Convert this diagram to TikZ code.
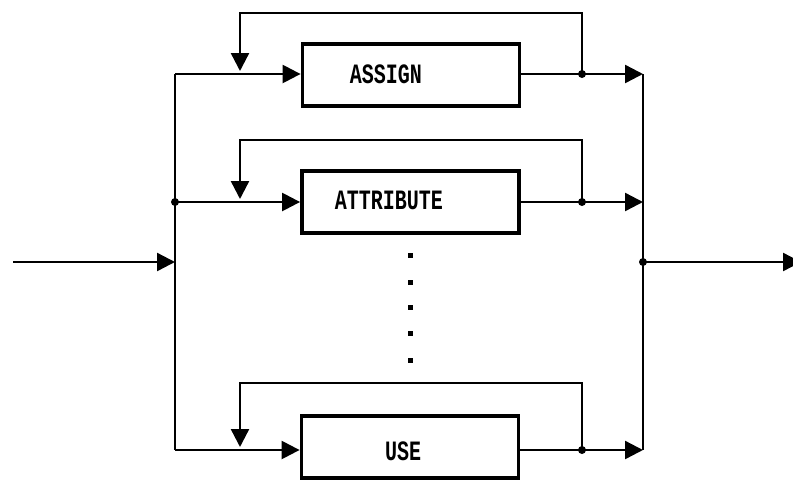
\documentclass[tikz,border=0pt]{standalone}
\usepackage{fontspec}
\usepackage{graphicx}
\newfontfamily\monofont{Liberation Mono}
\usetikzlibrary{arrows.meta}
\begin{document}
\begin{tikzpicture}[x=1pt,y=-1pt,
 line/.style={line width=2.4pt},
 arr/.style={line width=2.4pt,-{Triangle[length=18pt,width=18pt]}},
 blk/.style={draw,line width=3.8pt,minimum width=217pt,minimum height=62pt,inner sep=0pt},
 lbl/.style={font=\monofont\bfseries\fontsize{20}{20}\selectfont,inner sep=0pt},
 dot/.style={circle,fill,inner sep=0pt,minimum size=8pt},
 vdot/.style={rectangle,fill,inner sep=0pt,minimum size=5pt}]
\useasboundingbox (0,0) rectangle (793,480);
% boxes
\node[blk] (b1) at (411,75) {};
\node[blk] (b2) at (410.5,202) {};
\node[blk] (b3) at (410,447) {};
\node[lbl] (t1) at (386,74) {\scalebox{1}[1.4]{ASSIGN}};
\node[lbl] (t2) at (389,200) {\scalebox{1}[1.4]{ATTRIBUTE}};
\node[lbl] (t3) at (403,451) {\scalebox{1}[1.4]{USE}};
% coordinates
\coordinate (in) at (13,262);
\coordinate (Lin) at (175,262);
\coordinate (L1) at (175,74);
\coordinate (L2) at (175,202);
\coordinate (L3) at (175,450);
\coordinate (R1) at (643,74);
\coordinate (R2) at (643,202);
\coordinate (R3) at (643,450);
\coordinate (out) at (801,262);
\coordinate (F1a) at (582,13);  \coordinate (F1b) at (240,13);  \coordinate (F1c) at (240,71);
\coordinate (F2a) at (582,140); \coordinate (F2b) at (240,140); \coordinate (F2c) at (240,199);
\coordinate (F3a) at (582,383); \coordinate (F3b) at (240,383); \coordinate (F3c) at (240,447);
\node[dot] (j1) at (582,74) {};
\node[dot] (j2) at (582,202) {};
\node[dot] (j3) at (582,450) {};
\node[dot] (jl) at (L2) {};
\node[dot] (jo) at (643,262) {};
% buses
\draw[line] (L1) -- (L3);
\draw[line] (R1) -- (R3);
\draw[arr] (in) -- (Lin);
\draw[arr] (jo.center) -- (out);
% rows
\draw[arr] (L1) -- (b1.west |- L1);
\draw[arr] (jl.center) -- (b2.west |- L2);
\draw[arr] (L3) -- (b3.west |- L3);
\draw[line] (b1.east |- L1) -- (j1.center);
\draw[line] (b2.east |- L2) -- (j2.center);
\draw[line] (b3.east |- L3) -- (j3.center);
\draw[arr] (j1.center) -- (R1);
\draw[arr] (j2.center) -- (R2);
\draw[arr] (j3.center) -- (R3);
% feedback loops
\draw[arr] (j1.center) -- (F1a) -- (F1b) -- (F1c);
\draw[arr] (j2.center) -- (F2a) -- (F2b) -- (F2c);
\draw[arr] (j3.center) -- (F3a) -- (F3b) -- (F3c);
% ellipsis dots
\node[vdot] (d1) at (410,255) {};
\node[vdot] (d2) at (410,282) {};
\node[vdot] (d3) at (410,307) {};
\node[vdot] (d4) at (410,333) {};
\node[vdot] (d5) at (410,360) {};
\end{tikzpicture}
\end{document}
